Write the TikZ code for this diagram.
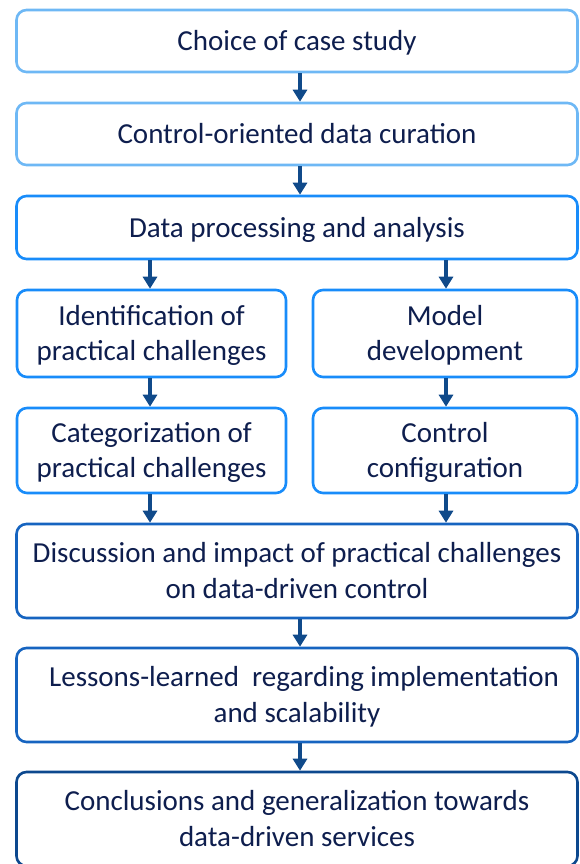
\documentclass[tikz,border=0pt]{standalone}
\usepackage{fontspec}
\setmainfont{Carlito}
\usetikzlibrary{arrows.meta}
\definecolor{txtnavy}{RGB}{14,30,78}
\definecolor{edgelight}{RGB}{110,184,245}
\definecolor{edgemid}{RGB}{24,140,250}
\definecolor{edgedeep}{RGB}{22,100,192}
\definecolor{edgedark}{RGB}{12,72,142}
\definecolor{arrowblue}{RGB}{16,74,138}
\tikzset{
  stage/.style={draw, line width=2.6pt, rounded corners=10pt, fill=white,
    align=center, text=txtnavy, inner sep=0pt,
    font=\fontsize{29}{35.5}\selectfont},
  flowarrow/.style={draw=arrowblue, line width=3.2pt,
    -{Triangle[length=12pt,width=14pt]}}
}
% text block lowered slightly inside its frame, keeping its reported size
\newcommand{\lowered}[1]{\raisebox{-2.5pt}[\height][\depth]{\begin{tabular}{@{}c@{}}#1\end{tabular}}}
\begin{document}
\begin{tikzpicture}[x=1pt,y=-1pt]
  \clip (0,0) rectangle (579,864);
  \useasboundingbox (0,0) rectangle (579,864);
  % single-column stages
  \node[stage, draw=edgelight, minimum width=561pt, minimum height=62pt] (choice) at (297,41) {\lowered{Choice of case study}};
  \node[stage, draw=edgelight, minimum width=561pt, minimum height=62pt] (curation) at (297,134) {\lowered{Control-oriented data curation}};
  \node[stage, draw=edgemid, minimum width=561pt, minimum height=63pt] (processing) at (297,227.5) {\lowered{Data processing and analysis}};
  % two parallel branches
  \node[stage, draw=edgemid, minimum width=269pt, minimum height=87pt] (identify) at (151.5,333.5) {\lowered{Identification of\\practical challenges}};
  \node[stage, draw=edgemid, minimum width=264pt, minimum height=87pt] (model) at (445,333.5) {\lowered{Model\\development}};
  \node[stage, draw=edgemid, minimum width=269pt, minimum height=85pt] (categorize) at (151.5,450.5) {\lowered{Categorization of\\practical challenges}};
  \node[stage, draw=edgemid, minimum width=264pt, minimum height=85pt] (control) at (445,450.5) {\lowered{Control\\configuration}};
  % merged stages
  \node[stage, draw=edgedeep, minimum width=561pt, minimum height=94pt] (discussion) at (297,571) {\lowered{Discussion and impact of practical challenges\\on data-driven control}};
  \node[stage, draw=edgedeep, minimum width=561pt, minimum height=94pt] (lessons) at (297,695) {\lowered{\hspace*{14pt}Lessons-learned\ \ regarding implementation\\and scalability}};
  \node[stage, draw=edgedark, minimum width=561pt, minimum height=94pt] (conclusions) at (297,819) {\lowered{Conclusions and generalization towards\\data-driven services}};
  % connectors
  \coordinate (colA) at (300,0);
  \coordinate (colL) at (150,0);
  \coordinate (colR) at (446,0);
  \draw[flowarrow] (choice.south -| colA) -- (curation.north -| colA);
  \draw[flowarrow] (curation.south -| colA) -- (processing.north -| colA);
  \draw[flowarrow] (processing.south -| colL) -- (identify.north -| colL);
  \draw[flowarrow] (processing.south -| colR) -- (model.north -| colR);
  \draw[flowarrow] (identify.south -| colL) -- (categorize.north -| colL);
  \draw[flowarrow] (model.south -| colR) -- (control.north -| colR);
  \draw[flowarrow] (categorize.south -| colL) -- (discussion.north -| colL);
  \draw[flowarrow] (control.south -| colR) -- (discussion.north -| colR);
  \draw[flowarrow] (discussion.south -| colA) -- (lessons.north -| colA);
  \draw[flowarrow] (lessons.south -| colA) -- (conclusions.north -| colA);
\end{tikzpicture}
\end{document}
